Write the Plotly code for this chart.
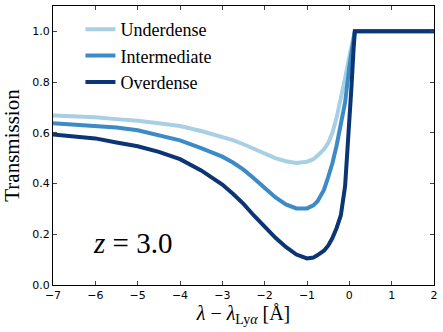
import plotly.graph_objects as go

# wavelength offset from Lyman-alpha [Angstrom]
wave = [-7.0, -6.5, -6.0, -5.5, -5.0, -4.5, -4.0, -3.5, -3.0, -2.75, -2.5, -2.25, -2.0, -1.75,
        -1.5, -1.25, -1.0, -0.85, -0.75, -0.6, -0.5, -0.4, -0.3, -0.2, -0.1, 0.0, 0.05, 0.1, 0.13, 2.0]

underdense = [0.668, 0.665, 0.661, 0.654, 0.648, 0.638, 0.627, 0.607, 0.585, 0.571, 0.555, 0.537, 0.518, 0.500,
              0.488, 0.481, 0.486, 0.496, 0.510, 0.535, 0.560, 0.600, 0.660, 0.730, 0.815, 0.900, 0.945, 0.985, 1.0, 1.0]
intermediate = [0.638, 0.632, 0.627, 0.621, 0.610, 0.592, 0.570, 0.540, 0.506, 0.483, 0.455, 0.420, 0.382, 0.346,
                0.318, 0.302, 0.302, 0.314, 0.330, 0.375, 0.425, 0.480, 0.550, 0.630, 0.720, 0.860, 0.925, 0.980, 1.0, 1.0]
overdense = [0.593, 0.587, 0.578, 0.562, 0.547, 0.525, 0.496, 0.452, 0.396, 0.360, 0.320, 0.273, 0.228, 0.187,
             0.150, 0.120, 0.105, 0.108, 0.118, 0.135, 0.155, 0.185, 0.225, 0.275, 0.390, 0.630, 0.780, 0.930, 1.0, 1.0]

series = [
    ("Underdense", underdense, "#a9cfe5"),
    ("Intermediate", intermediate, "#3c8bc6"),
    ("Overdense", overdense, "#0b3575"),
]

SERIF = "Liberation Serif, DejaVu Serif, serif"
SANS = "DejaVu Sans, sans-serif"

fig = go.Figure()
for name, vals, col in series:
    fig.add_trace(go.Scatter(
        x=wave, y=vals, mode="lines", name=name,
        line=dict(color=col, width=4),
    ))

fig.add_annotation(
    x=-5.12, y=0.166, xref="x", yref="y",
    text="<i>z</i> = 3.0", showarrow=False,
    font=dict(family=SERIF, size=29, color="black"),
)

axis_common = dict(
    showgrid=False, zeroline=False, showline=True, linecolor="black", linewidth=1,
    mirror="ticks", ticks="inside", ticklen=4, tickcolor="#444", automargin=False,
    tickfont=dict(family=SANS, size=11, color="black"),
)

fig.update_layout(
    width=443, height=332,
    margin=dict(l=53, r=9, t=6, b=47),
    paper_bgcolor="white", plot_bgcolor="white",
    xaxis=dict(range=[-7, 2], dtick=1, tickformat="d",
               title=dict(text="<i>λ</i> − <i>λ</i><sub>Ly<i>α</i></sub> [Å]", standoff=4,
                          font=dict(family=SERIF, size=20, color="black")),
               **axis_common),
    yaxis=dict(range=[0, 1.1], tickvals=[0, 0.2, 0.4, 0.6, 0.8, 1.0], tickformat=".1f",
               title=dict(text="Transmission", standoff=6,
                          font=dict(family=SERIF, size=21, color="black")),
               **axis_common),
    legend=dict(x=0.072, y=0.982, xanchor="left", yanchor="top",
                bgcolor="rgba(0,0,0,0)", borderwidth=0,
                font=dict(family=SERIF, size=18, color="black"),
                tracegroupgap=4),
    showlegend=True,
)

# the page body has a default 8px margin, drop it so the figure sits at the corner
fig.write_html("out.html", config={"displayModeBar": False},
               post_script="document.body.style.margin='0';document.body.style.overflow='hidden';")
